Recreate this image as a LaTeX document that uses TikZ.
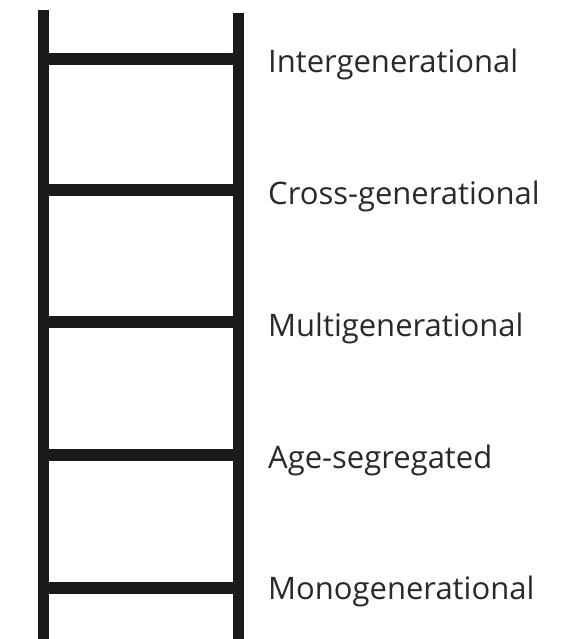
\documentclass[tikz,border=0pt]{standalone}
\usepackage{fontspec}
\setmainfont{Open Sans}
\definecolor{ink}{HTML}{1C1A18}
\definecolor{txt}{HTML}{2B2926}
\tikzset{
  rail/.style={draw=ink, line width=11pt},
  rung/.style={draw=ink, line width=12pt},
  lbl/.style={anchor=base west, inner sep=0pt, text=txt, font=\fontsize{31}{37}\selectfont}
}
\begin{document}
\begin{tikzpicture}[x=1pt,y=-1pt]
\useasboundingbox (0,0) rectangle (573,639);
\coordinate (lt) at (43.5,10);
\coordinate (lb) at (43.5,639);
\coordinate (rt) at (238.5,13);
\coordinate (rb) at (238.5,639);
\draw[rail] (lt) -- (lb);
\draw[rail] (rt) -- (rb);
\foreach \y [count=\i] in {59,190,322,455,588}{
  \coordinate (l\i) at (43.5,\y);
  \coordinate (r\i) at (238.5,\y);
  \draw[rung] (l\i) -- (r\i);
}
\node[lbl] (t1) at (268,73) {Intergenerational};
\node[lbl] (t2) at (268,204) {Cross-generational};
\node[lbl] (t3) at (268,336) {Multigenerational};
\node[lbl] (t4) at (268,468) {Age-segregated};
\node[lbl] (t5) at (268,599) {Monogenerational};
\end{tikzpicture}
\end{document}
